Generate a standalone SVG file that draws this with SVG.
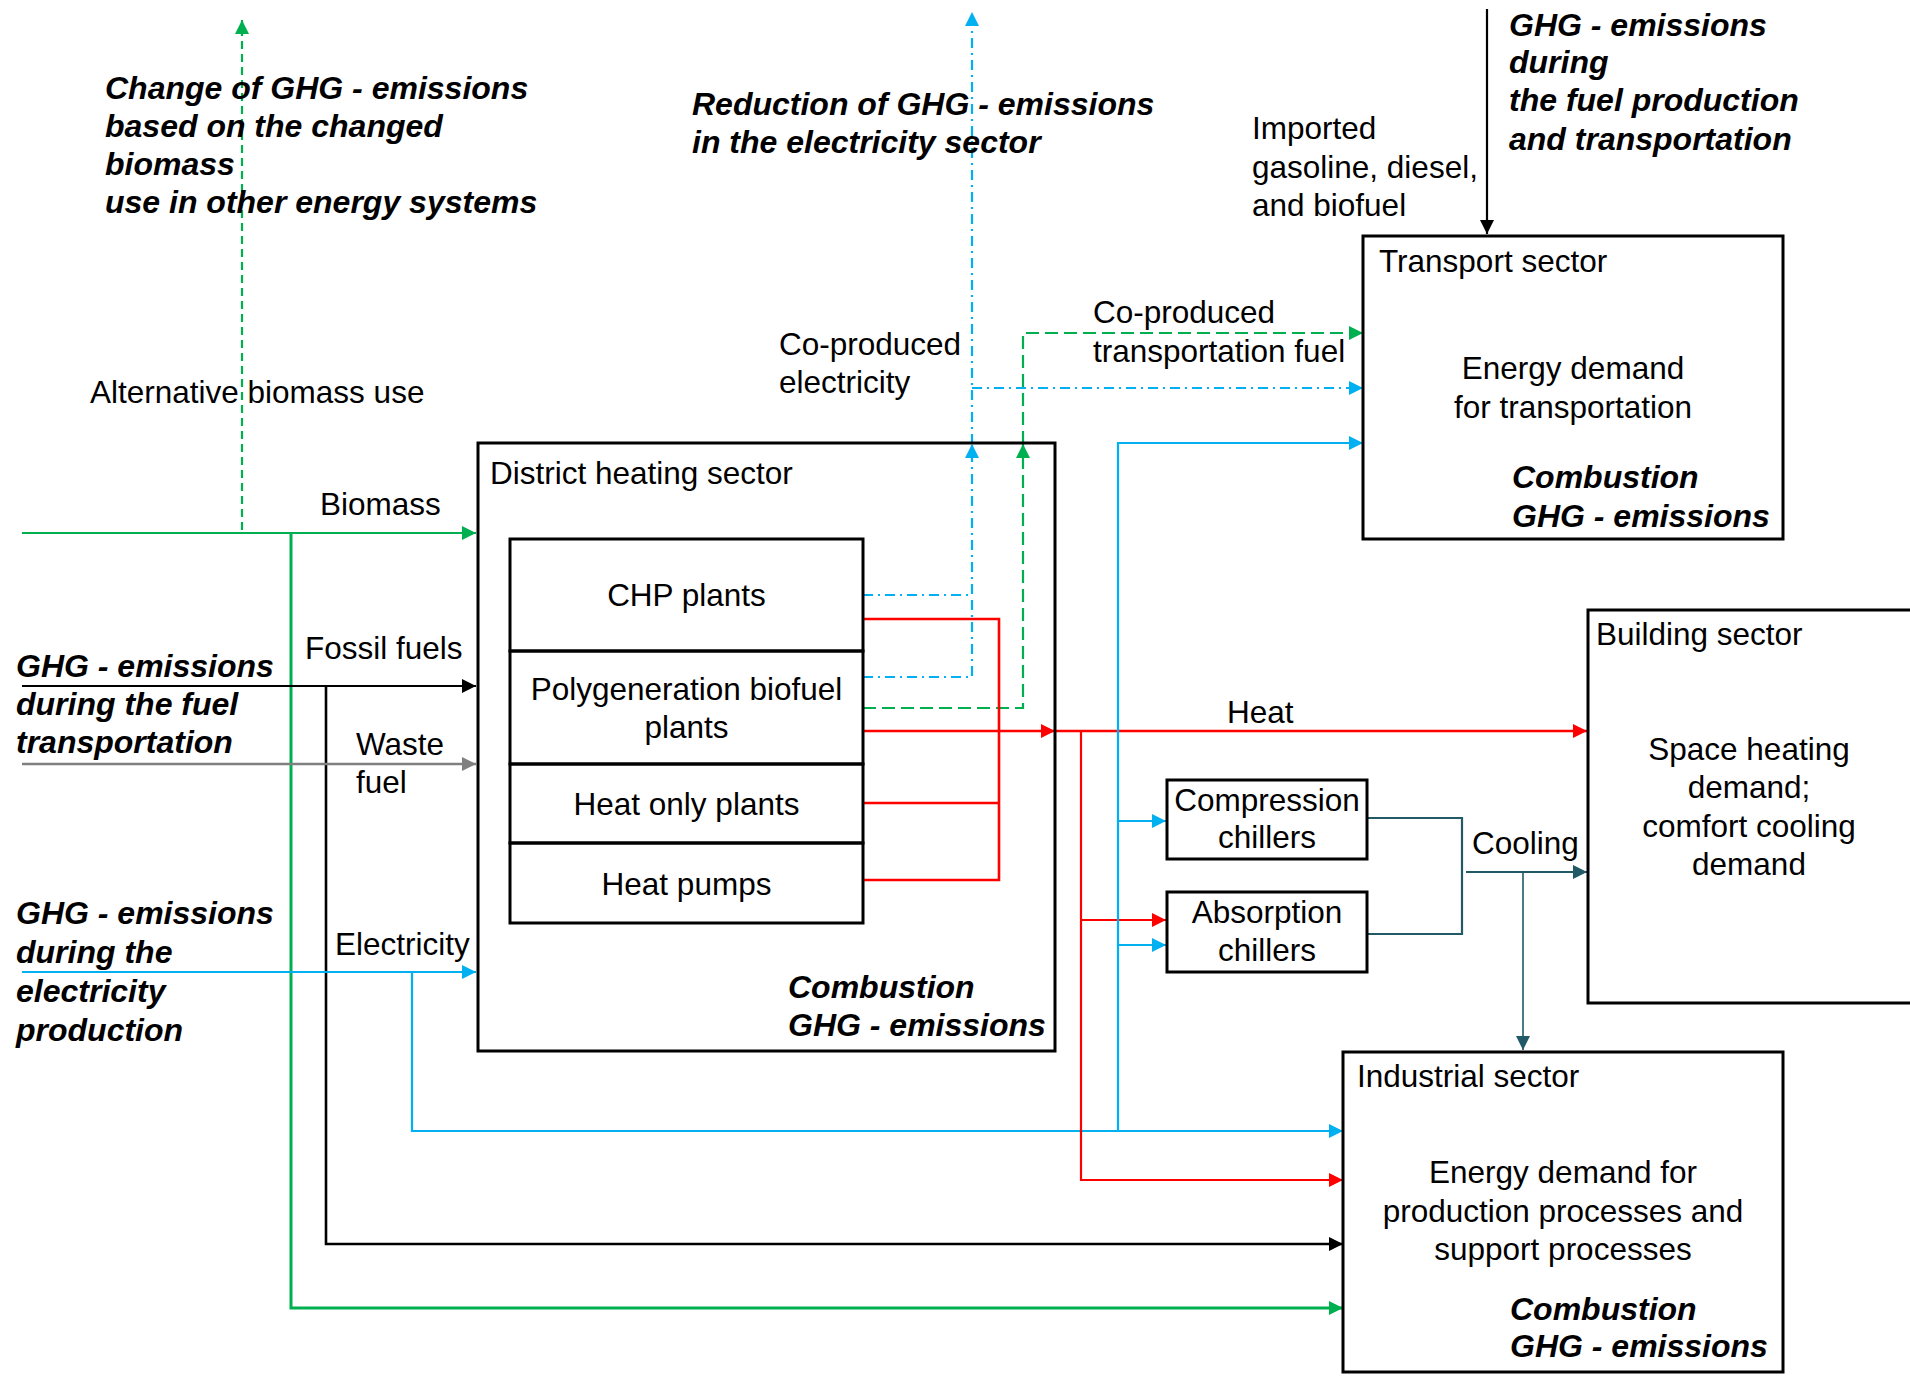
<svg xmlns="http://www.w3.org/2000/svg" width="1910" height="1383" viewBox="0 0 1910 1383">
<defs>
<style>
text{font-family:"Liberation Sans",Arial,sans-serif;font-size:31.5px;fill:#000}
.b{font-weight:bold;font-style:italic;font-size:32px}
.m{text-anchor:middle}
.box{fill:none;stroke:#000;stroke-width:3}
.ln{fill:none;stroke-width:2.2}
.g{stroke:#00B050}.bl{stroke:#00B0F0}.r{stroke:#FF0000}.k{stroke:#000}.gr{stroke:#808080}.t{stroke:#215967}
.dash{stroke-dasharray:8 5}
.dash2{stroke-dasharray:13 6}
.dd{stroke-dasharray:10 5 2 5}
</style>
<marker id="ag" viewBox="0 0 12 12" refX="12" refY="6" markerWidth="14" markerHeight="14" markerUnits="userSpaceOnUse" orient="auto"><path d="M0,0 L12,6 L0,12 Z" fill="#00B050"/></marker>
<marker id="ab" viewBox="0 0 12 12" refX="12" refY="6" markerWidth="14" markerHeight="14" markerUnits="userSpaceOnUse" orient="auto"><path d="M0,0 L12,6 L0,12 Z" fill="#00B0F0"/></marker>
<marker id="ar" viewBox="0 0 12 12" refX="12" refY="6" markerWidth="14" markerHeight="14" markerUnits="userSpaceOnUse" orient="auto"><path d="M0,0 L12,6 L0,12 Z" fill="#FF0000"/></marker>
<marker id="ak" viewBox="0 0 12 12" refX="12" refY="6" markerWidth="14" markerHeight="14" markerUnits="userSpaceOnUse" orient="auto"><path d="M0,0 L12,6 L0,12 Z" fill="#000"/></marker>
<marker id="agr" viewBox="0 0 12 12" refX="12" refY="6" markerWidth="14" markerHeight="14" markerUnits="userSpaceOnUse" orient="auto"><path d="M0,0 L12,6 L0,12 Z" fill="#808080"/></marker>
<marker id="at" viewBox="0 0 12 12" refX="12" refY="6" markerWidth="14" markerHeight="14" markerUnits="userSpaceOnUse" orient="auto"><path d="M0,0 L12,6 L0,12 Z" fill="#215967"/></marker>
</defs>
<rect width="1910" height="1383" fill="#fff"/>

<g id="connectors">
  <!-- biomass -->
  <path class="ln g" d="M22,533 H476" marker-end="url(#ag)"/>
  <path class="ln g dash" d="M242,530 V20" marker-end="url(#ag)"/>
  <path class="ln g" style="stroke-width:3" d="M291,533 V1308 H1343" marker-end="url(#ag)"/>
  <!-- fossil -->
  <path class="ln k" d="M22,686 H476" marker-end="url(#ak)"/>
  <path class="ln k" style="stroke-width:2.6" d="M326,686 V1244 H1343" marker-end="url(#ak)"/>
  <path class="ln k" d="M1487,9 V234" marker-end="url(#ak)"/>
  <!-- waste -->
  <path class="ln gr" style="stroke-width:2.6" d="M22,764 H476" marker-end="url(#agr)"/>
  <!-- electricity -->
  <path class="ln bl" d="M22,972 H476" marker-end="url(#ab)"/>
  <path class="ln bl" d="M412,972 V1131 H1343" marker-end="url(#ab)"/>
  <!-- co-produced electricity -->
  <path class="ln bl dd" d="M863,595 H972 V444" marker-end="url(#ab)"/>
  <path class="ln bl dd" d="M863,677 H972 V595"/>
  <path class="ln bl dd" d="M972,444 V12" marker-end="url(#ab)"/>
  <path class="ln bl dd" d="M972,388 H1363" marker-end="url(#ab)"/>
  <!-- co-produced transportation fuel -->
  <path class="ln g dash2" d="M863,708 H1023 V444" marker-end="url(#ag)"/>
  <path class="ln g dash2" d="M1023,444 V333 H1363" marker-end="url(#ag)"/>
  <!-- heat internal -->
  <path class="ln r" style="stroke-width:2.6" d="M863,619 H999 V880 H863"/>
  <path class="ln r" style="stroke-width:2.6" d="M863,803 H999"/>
  <path class="ln r" style="stroke-width:2.6" d="M863,731 H1055" marker-end="url(#ar)"/>
  <path class="ln r" style="stroke-width:2.6" d="M1055,731 H1587" marker-end="url(#ar)"/>
  <path class="ln r" d="M1081,731 V1180 H1343" marker-end="url(#ar)"/>
  <path class="ln r" d="M1081,920 H1166" marker-end="url(#ar)"/>
  <!-- blue supply -->
  <path class="ln bl" d="M1118,1131 V443 H1363" marker-end="url(#ab)"/>
  <path class="ln bl" d="M1118,821 H1166" marker-end="url(#ab)"/>
  <path class="ln bl" d="M1118,945 H1166" marker-end="url(#ab)"/>
  <!-- cooling -->
  <path class="ln t" d="M1367,818 H1462 V934 H1367"/>
  <path class="ln t" d="M1466,872 H1587" marker-end="url(#at)"/>
  <path class="ln t" style="stroke-width:1.6" d="M1523,872 V1050" marker-end="url(#at)"/>
</g>

<g id="labels">
  <text class="b" x="105" y="99">Change of GHG - emissions</text>
  <text class="b" x="105" y="137">based on the changed</text>
  <text class="b" x="105" y="175">biomass</text>
  <text class="b" x="105" y="213">use in other energy systems</text>
  <text x="90" y="403">Alternative biomass use</text>
  <text class="b" x="692" y="115">Reduction of GHG - emissions</text>
  <text class="b" x="692" y="153">in the electricity sector</text>
  <text x="779" y="355">Co-produced</text>
  <text x="779" y="393">electricity</text>
  <text x="1093" y="323">Co-produced</text>
  <text x="1093" y="362">transportation fuel</text>
  <text x="1252" y="139">Imported</text>
  <text x="1252" y="178">gasoline, diesel,</text>
  <text x="1252" y="216">and biofuel</text>
  <text class="b" x="1509" y="36">GHG - emissions</text>
  <text class="b" x="1509" y="73">during</text>
  <text class="b" x="1509" y="111">the fuel production</text>
  <text class="b" x="1509" y="150">and transportation</text>
  <text x="320" y="515">Biomass</text>
  <text x="305" y="659">Fossil fuels</text>
  <text class="b" x="16" y="677">GHG - emissions</text>
  <text class="b" x="16" y="715">during the fuel</text>
  <text class="b" x="16" y="753">transportation</text>
  <text x="356" y="755">Waste</text>
  <text x="356" y="793">fuel</text>
  <text x="335" y="955">Electricity</text>
  <text class="b" x="16" y="924">GHG - emissions</text>
  <text class="b" x="16" y="963">during the</text>
  <text class="b" x="16" y="1002">electricity</text>
  <text class="b" x="16" y="1041">production</text>
  <text x="1227" y="723">Heat</text>
  <text x="1472" y="854">Cooling</text>
</g>

<g id="district-heating">
  <rect class="box" x="478" y="443" width="577" height="608"/>
  <text x="490" y="484">District heating sector</text>
  <text class="b" x="788" y="998">Combustion</text>
  <text class="b" x="788" y="1036">GHG - emissions</text>
</g>
<g id="chp-plants">
  <rect class="box" x="510" y="539" width="353" height="112"/>
  <text class="m" x="686.5" y="606">CHP plants</text>
</g>
<g id="polygeneration">
  <rect class="box" x="510" y="651" width="353" height="113"/>
  <text class="m" x="686.5" y="700">Polygeneration biofuel</text>
  <text class="m" x="686.5" y="738">plants</text>
</g>
<g id="heat-only">
  <rect class="box" x="510" y="764" width="353" height="79"/>
  <text class="m" x="686.5" y="815">Heat only plants</text>
</g>
<g id="heat-pumps">
  <rect class="box" x="510" y="843" width="353" height="80"/>
  <text class="m" x="686.5" y="895">Heat pumps</text>
</g>

<g id="transport">
  <rect class="box" x="1363" y="236" width="420" height="303"/>
  <text x="1379" y="272">Transport sector</text>
  <text class="m" x="1573" y="379">Energy demand</text>
  <text class="m" x="1573" y="418">for transportation</text>
  <text class="b" x="1512" y="488">Combustion</text>
  <text class="b" x="1512" y="527">GHG - emissions</text>
</g>

<g id="building">
  <rect class="box" x="1588" y="610" width="340" height="393"/>
  <text x="1596" y="645">Building sector</text>
  <text class="m" x="1749" y="760">Space heating</text>
  <text class="m" x="1749" y="798">demand;</text>
  <text class="m" x="1749" y="837">comfort cooling</text>
  <text class="m" x="1749" y="875">demand</text>
</g>

<g id="compression-chillers">
  <rect class="box" x="1167" y="780" width="200" height="79"/>
  <text class="m" x="1267" y="811">Compression</text>
  <text class="m" x="1267" y="848">chillers</text>
</g>
<g id="absorption-chillers">
  <rect class="box" x="1167" y="892" width="200" height="80"/>
  <text class="m" x="1267" y="923">Absorption</text>
  <text class="m" x="1267" y="961">chillers</text>
</g>

<g id="industrial">
  <rect class="box" x="1343" y="1052" width="440" height="320"/>
  <text x="1357" y="1087">Industrial sector</text>
  <text class="m" x="1563" y="1183">Energy demand for</text>
  <text class="m" x="1563" y="1222">production processes and</text>
  <text class="m" x="1563" y="1260">support processes</text>
  <text class="b" x="1510" y="1320">Combustion</text>
  <text class="b" x="1510" y="1357">GHG - emissions</text>
</g>
</svg>
